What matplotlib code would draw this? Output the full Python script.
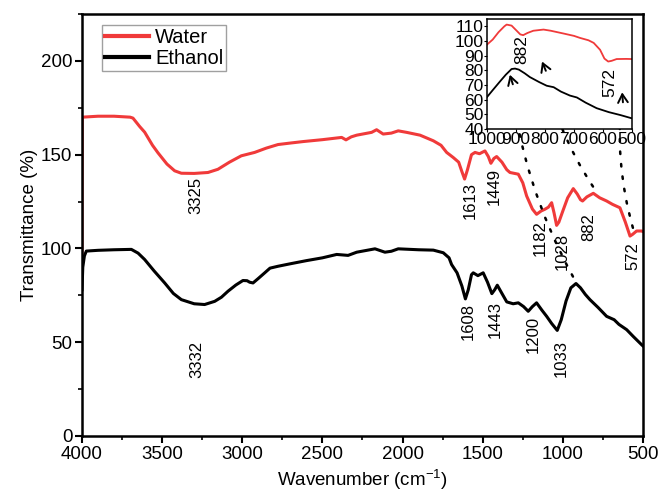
import numpy as np
import matplotlib
matplotlib.use('Agg')
from matplotlib import pyplot as plt
from matplotlib.ticker import MultipleLocator

plt.rcParams['font.family'] = ['Liberation Sans', 'DejaVu Sans']
plt.rcParams['mathtext.fontset'] = 'custom'
plt.rcParams['mathtext.rm'] = 'Liberation Sans'
plt.rcParams['mathtext.it'] = 'Liberation Sans'

# 主图：水提取物
water_wn = [4000, 3998, 3900, 3800, 3700, 3682, 3640, 3609, 3560, 3526, 3470, 3422, 3380, 3300,
            3214, 3152, 3080, 3006, 2923, 2850, 2777, 2700, 2619, 2500, 2380, 2353, 2320, 2286,
            2193, 2162, 2121, 2070, 2027, 1975, 1891, 1808, 1760, 1725, 1684, 1650, 1630, 1613,
            1595, 1570, 1548, 1520, 1486, 1465, 1449, 1430, 1413, 1380, 1350, 1330, 1278, 1250,
            1226, 1190, 1164, 1135, 1112, 1090, 1070, 1055, 1039, 1025, 1000, 970, 935, 910, 890,
            877, 850, 810, 770, 727, 690, 644, 610, 581, 565, 540, 509, 500]
water_t = [96, 170, 170.5, 170.5, 170, 169.5, 165, 162, 155, 151, 145, 141.4, 140.1, 140,
           140.5, 142.2, 146, 149.4, 151.2, 153.5, 155.4, 156.2, 157, 158, 159.2, 157.9, 159.5, 160.4,
           161.9, 163.3, 161, 161.5, 162.7, 161.9, 160.4, 157.4, 155, 151.2, 148.5, 146, 141, 137,
           142, 150, 151.2, 150.5, 152, 149, 145.4, 148, 149, 146, 142, 140.5, 139.6, 135,
           128, 121, 118.2, 120, 120.9, 122, 124.4, 119, 112.3, 114, 120, 127, 131.9, 129, 126,
           125.3, 127.5, 129.4, 127, 125.3, 123.5, 121.7, 114, 106.6, 107.5, 109.3, 109.3, 109]

# 主图：乙醇提取物
eth_wn = [4000, 3995, 3985, 3973, 3900, 3800, 3692, 3650, 3609, 3550, 3484, 3430, 3380, 3300,
          3235, 3172, 3130, 3089, 3040, 2996, 2970, 2954, 2933, 2900, 2860, 2827, 2777, 2702,
          2600, 2500, 2411, 2340, 2286, 2172, 2110, 2070, 2027, 1900, 1808, 1746, 1710, 1694,
          1660, 1630, 1608, 1590, 1570, 1559, 1530, 1497, 1470, 1443, 1425, 1409, 1380, 1350,
          1310, 1278, 1245, 1216, 1190, 1164, 1130, 1101, 1070, 1035, 1010, 980, 950, 918, 890,
          860, 831, 780, 727, 680, 650, 602, 560, 509, 500]
eth_t = [78, 90, 96, 98.6, 99, 99.3, 99.5, 97.5, 94.1, 88, 81.6, 76, 72.7, 70.5,
         70.1, 71.8, 74, 77.2, 80.5, 82.9, 82.8, 82, 81.6, 84, 87, 89.5, 90.5, 91.8,
         93.5, 95, 96.8, 96.3, 98, 99.8, 98, 98.5, 99.8, 99.3, 99.1, 97.7, 95, 91.4,
         87, 80, 73.1, 78, 86, 87, 85.5, 87, 82, 75.9, 78, 80.4, 76, 71.5,
         70.5, 71, 69, 66.5, 69, 71, 67, 63.8, 60, 56.3, 62, 72, 79, 81.3, 79,
         75.5, 72.7, 68.5, 63.8, 62, 59.5, 56.7, 53, 48.7, 48]

# 插图 1000-500 cm-1
in_water_wn = [1000, 980, 960, 940, 932, 915, 900, 885, 875, 860, 840, 805, 780, 736, 700, 679,
               650, 632, 610, 595, 582, 570, 553, 520, 501]
in_water_t = [97.5, 101, 106, 110, 111.2, 110.5, 107.5, 104.5, 104, 105.5, 107, 107.8, 107, 105.1,
              103.5, 102.1, 100.5, 98.7, 94, 88, 86, 86.5, 87.7, 87.8, 87.7]
in_eth_wn = [1000, 980, 955, 935, 915, 903, 890, 870, 852, 820, 794, 770, 745, 714, 690, 660,
             622, 580, 540, 501]
in_eth_t = [61.7, 66.5, 72.4, 77, 80.9, 81.2, 80.5, 78, 75.4, 72, 69.5, 68.5, 65.5, 62.8, 61.5,
            58, 54.2, 51.5, 49.5, 47.3]

# 峰位标注 (文字, 波数, 纵坐标)
peak_labels = [('3325', 3287, 128), ('3332', 3283, 40.6), ('1613', 1580, 125.3),
               ('1449', 1428, 133.3), ('1182', 1143, 105.7), ('1028', 1004, 98.6),
               ('882', 837, 111.6), ('572', 561, 95.9), ('1608', 1590, 61.1),
               ('1443', 1424, 62), ('1200', 1185, 54), ('1033', 1012, 41.5)]
inset_labels = [('882', 880, 94), ('572', 576, 72)]

# 箭头：主图起点 -> 插图终点
arrows = [((937, 85), (921, 77)), ((812, 133), (810, 86)), ((563, 111), (534, 65))]

red = '#f03a3a'

fig = plt.figure(figsize=(6.58, 4.95), dpi=100)
ax = fig.add_axes([0.1246, 0.1192, 0.8526, 0.8525])
ax.plot(water_wn, water_t, color=red, lw=2.2, label='Water')
ax.plot(eth_wn, eth_t, color='black', lw=2.2, label='Ethanol')
ax.set_xlim(4000, 500)
ax.set_ylim(0, 225)
ax.xaxis.set_major_locator(MultipleLocator(500))
ax.xaxis.set_minor_locator(MultipleLocator(250))
ax.yaxis.set_major_locator(MultipleLocator(50))
ax.yaxis.set_minor_locator(MultipleLocator(25))
ax.tick_params(which='major', direction='out', length=5, width=1.5, labelsize=13.5, pad=2)
ax.tick_params(which='minor', direction='out', length=3, width=1.2)
for s in ax.spines.values():
    s.set_linewidth(1.8)
ax.set_xlabel('Wavenumber (cm$^{-1}$)', fontsize=13.5, labelpad=4)
ax.set_ylabel('Transmittance (%)', fontsize=13.5, labelpad=2)
leg = ax.legend(loc='upper left', bbox_to_anchor=(0.035, 0.974), fontsize=14.5, frameon=True,
                fancybox=False, edgecolor='#888888', handlelength=2.2, handletextpad=0.3,
                borderpad=0.15, labelspacing=0.1, borderaxespad=0)
leg.get_frame().set_linewidth(1)
for h in leg.get_lines():
    h.set_linewidth(3)

for txt, w, v in peak_labels:
    ax.text(w, v, txt, rotation=90, ha='center', va='center', fontsize=12)

axin = fig.add_axes([0.740, 0.7394, 0.2205, 0.2222])
axin.plot(in_water_wn, in_water_t, color=red, lw=1.3)
axin.plot(in_eth_wn, in_eth_t, color='black', lw=1.3)
axin.set_xlim(1000, 500)
axin.set_ylim(40, 115)
axin.xaxis.set_major_locator(MultipleLocator(100))
axin.yaxis.set_major_locator(MultipleLocator(10))
axin.tick_params(direction='out', length=2, width=0.8, labelsize=12.5, pad=0.3)
for s in axin.spines.values():
    s.set_linewidth(1.1)
for txt, w, v in inset_labels:
    axin.text(w, v, txt, rotation=90, ha='center', va='center', fontsize=12.5)

for (w0, v0), (w1, v1) in arrows:
    ax.annotate('', xy=(w1, v1), xycoords=axin.transData, xytext=(w0, v0), textcoords=ax.transData,
                arrowprops=dict(arrowstyle='-', linestyle=(0, (1, 4)), lw=1.8, color='black',
                                shrinkA=0, shrinkB=0, connectionstyle='arc3,rad=-0.1'),
                annotation_clip=False)
    # 箭头头部
    p1 = axin.transData.transform((w1, v1))
    p0 = ax.transData.transform((w0, v0))
    d = (p1 - p0) / np.hypot(*(p1 - p0))
    pb = fig.transFigure.inverted().transform(p1 - d * 10)
    pe = fig.transFigure.inverted().transform(p1)
    fig.add_artist(matplotlib.patches.FancyArrowPatch(pb, pe, transform=fig.transFigure,
                                                      arrowstyle='->,head_length=6,head_width=3.5',
                                                      lw=1.4, color='black', shrinkA=0, shrinkB=0))

fig.savefig('out.png', dpi=100)
